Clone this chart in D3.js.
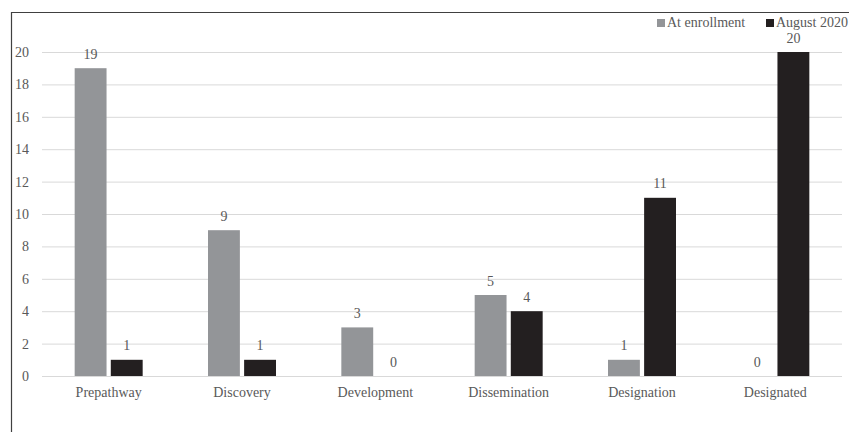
<!DOCTYPE html>
<html>
<head>
<meta charset="utf-8">
<script src="https://cdn.jsdelivr.net/npm/d3@7"></script>
<style>
  body { margin: 0; background: #fff; }
  text { font-family: "Liberation Serif", "Times New Roman", serif; fill: #595959; }
</style>
</head>
<body>
<div id="chart"></div>
<script>
const categories = ["Prepathway", "Discovery", "Development", "Dissemination", "Designation", "Designated"];
const seriesNames = ["At enrollment", "August 2020"];
const atEnrollment = [19, 9, 3, 5, 1, 0];
const august2020 = [1, 1, 0, 4, 11, 20];
const yTicks = [0, 2, 4, 6, 8, 10, 12, 14, 16, 18, 20];
const colors = ["#939598", "#231f20"];

const W = 849, H = 432;
const margin = { top: 52, right: 7, bottom: 56, left: 42 };
const width = W - margin.left - margin.right,
  height = H - margin.top - margin.bottom;

const svg = d3.select("#chart").append("svg")
  .attr("width", W).attr("height", H);

// outer frame
svg.append("path")
  .attr("d", `M11.5,${H} V12.5 H${W}`)
  .attr("fill", "none").attr("stroke", "#404040").attr("stroke-width", 1.2);

const g = svg.append("g").attr("transform", `translate(${margin.left},${margin.top})`);

const x = d3.scaleBand().domain(categories).range([0, width]).padding(0);
const x1 = d3.scaleBand().domain(seriesNames).range([x.bandwidth() / 2 - 34, x.bandwidth() / 2 + 34]).paddingInner(8 / 68);
const y = d3.scaleLinear().domain([0, 20]).range([height, 0]);

// gridlines
g.selectAll("line.grid").data(yTicks).join("line")
  .attr("class", "grid")
  .attr("x1", 0).attr("x2", width)
  .attr("y1", d => y(d) + 0.5).attr("y2", d => y(d) + 0.5)
  .attr("stroke", "#d9d9d9").attr("stroke-width", 1);

// y tick labels
g.selectAll("text.ytick").data(yTicks).join("text")
  .attr("class", "ytick")
  .attr("x", -13).attr("y", d => y(d))
  .attr("dy", "0.35em")
  .attr("text-anchor", "end")
  .style("font-size", "14px")
  .text(d => d);

// x labels
g.selectAll("text.xtick").data(categories).join("text")
  .attr("class", "xtick")
  .attr("x", d => x(d) + x.bandwidth() / 2)
  .attr("y", height + 21)
  .attr("text-anchor", "middle")
  .style("font-size", "14px")
  .text(d => d);

const rows = categories.map((c, i) => ({ cat: c, vals: [atEnrollment[i], august2020[i]] }));

const groups = g.selectAll("g.cat").data(rows).join("g")
  .attr("class", "cat")
  .attr("transform", d => `translate(${x(d.cat)},0)`);

groups.selectAll("rect").data(d => d.vals.map((v, k) => ({ k, v }))).join("rect")
  .attr("x", d => x1(seriesNames[d.k]))
  .attr("width", x1.bandwidth())
  .attr("y", d => y(d.v))
  .attr("height", d => height - y(d.v))
  .attr("fill", d => colors[d.k]);

groups.selectAll("text.val").data(d => d.vals.map((v, k) => ({ k, v }))).join("text")
  .attr("class", "val")
  .attr("x", d => x1(seriesNames[d.k]) + x1.bandwidth() / 2)
  .attr("y", d => y(d.v) - 9.5)
  .attr("text-anchor", "middle")
  .style("font-size", "14px")
  .text(d => d.v);

// legend
const legend = svg.append("g").attr("transform", "translate(657,19)");
const legendX = [0, 109];
seriesNames.forEach((s, i) => {
  legend.append("rect").attr("x", legendX[i]).attr("y", 0)
    .attr("width", 8).attr("height", 8).attr("fill", colors[i]);
  legend.append("text").attr("x", legendX[i] + 10).attr("y", 8)
    .style("font-size", "14px").text(s);
});
</script>
</body>
</html>
